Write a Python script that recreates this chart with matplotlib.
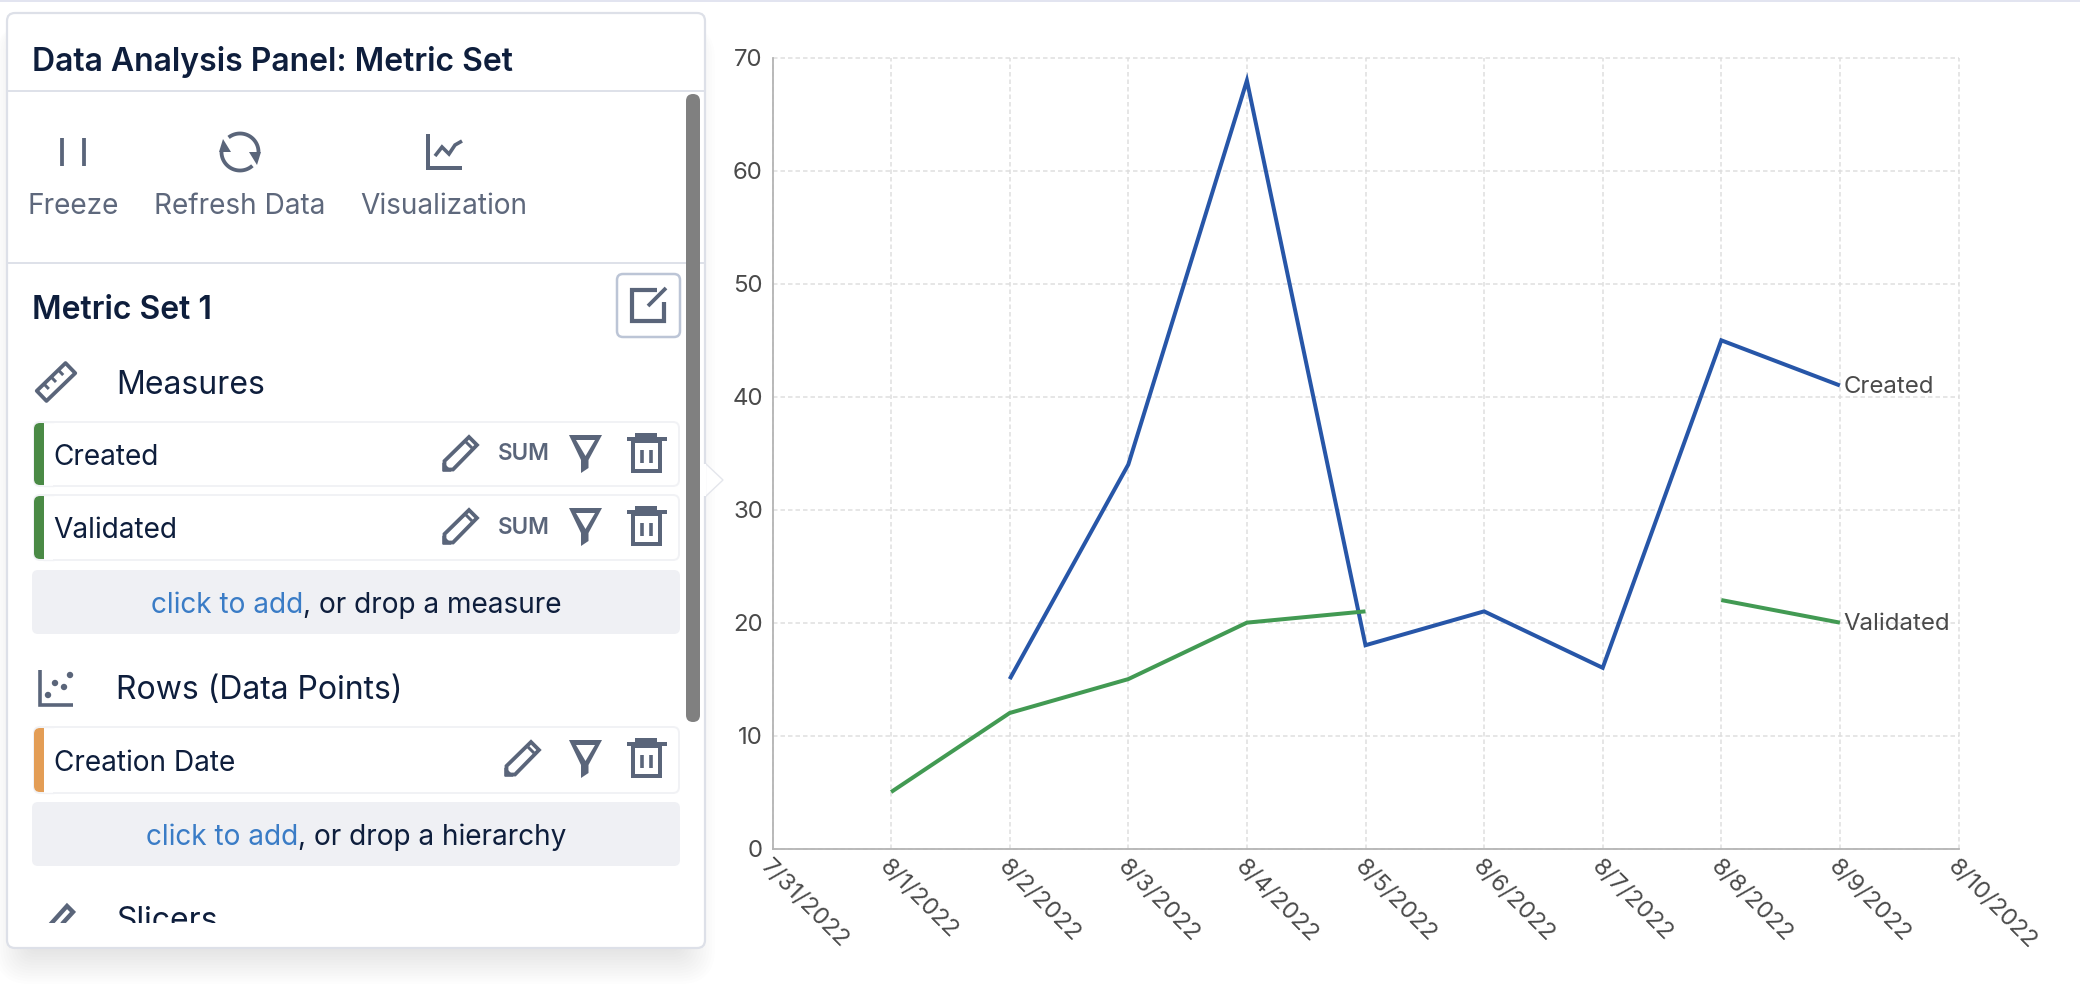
import numpy as np
import matplotlib
matplotlib.use("Agg")
import matplotlib.pyplot as plt
from matplotlib.patches import FancyBboxPatch, Rectangle, Polygon, Circle

plt.rcParams['font.family'] = ['Inter', 'DejaVu Sans']

dates = ['7/31/2022', '8/1/2022', '8/2/2022', '8/3/2022', '8/4/2022', '8/5/2022',
         '8/6/2022', '8/7/2022', '8/8/2022', '8/9/2022', '8/10/2022']
nan = float('nan')
created = [nan, nan, 15, 34, 68, 18, 21, 16, 45, 41, nan]
validated = [nan, 5, 12, 15, 20, 21, nan, nan, 22, 20, nan]
y_ticks = [0, 10, 20, 30, 40, 50, 60, 70]
series_names = ['Created', 'Validated']
series_colors = ['#2756A8', '#429A53']

W, H = 2080, 984
NAVY, GRAY, BORDER = '#0E1E3C', '#5A657A', '#DDE0E8'
LINK, ADDBG = '#3A7CC6', '#EFF0F4'
PX = 0.72  # px to pt at dpi 100

fig = plt.figure(figsize=(W/100, H/100), dpi=100, facecolor='white')
ui = fig.add_axes([0, 0, 1, 1])
ui.set_xlim(0, W); ui.set_ylim(H, 0); ui.axis('off')


def rrect(x0, y0, x1, y1, r=6, fc='white', ec='none', lw=0, alpha=None, z=2):
    p = FancyBboxPatch((x0 + r, y0 + r), x1 - x0 - 2*r, y1 - y0 - 2*r,
                       boxstyle=f'round,pad={r},rounding_size={r}',
                       fc=fc, ec=ec, lw=lw, alpha=alpha, zorder=z)
    ui.add_patch(p)
    return p


def line(xs, ys, color=GRAY, lw=3.2, z=5, cap='butt', join='miter'):
    return ui.plot(xs, ys, color=color, lw=lw*PX, zorder=z,
                   solid_capstyle=cap, solid_joinstyle=join)[0]


def txt(x, y, s, size, color=NAVY, weight='normal', ha='left', z=6):
    return ui.text(x, y, s, fontsize=size*PX, color=color, fontweight=weight,
                   ha=ha, va='center_baseline', zorder=z)


def screen_arc(cx, cy, r, a0, a1, lw=3.8):
    a = np.deg2rad(np.linspace(a0, a1, 60))
    line(cx + r*np.cos(a), cy - r*np.sin(a), lw=lw)


# top strip
ui.add_patch(Rectangle((0, 0), W, 2, fc='#E2E4F0', ec='none', zorder=1))

# shadow
for i in range(14):
    g = 3*i
    rrect(30 - g*0.9, 24, 678 + g*0.95, 949 + g*0.9, r=8 + g*0.7, fc='#39425A', alpha=0.0072, z=1)

# panel
rrect(7, 13, 705, 948, r=8, fc='white', ec=BORDER, lw=1.6, z=2)
# pointer arrow
ui.add_patch(Polygon([[705, 463], [723, 480], [705, 497]], closed=False, fc='white', ec='#E4E6EC', lw=1, zorder=1.5))
ui.add_patch(Rectangle((703, 464), 3, 32, fc='white', ec='none', zorder=3))

# dividers
ui.plot([7, 705], [91, 91], color=BORDER, lw=1.9*PX, zorder=3)
ui.plot([7, 705], [263, 263], color=BORDER, lw=1.9*PX, zorder=3)

# scrollbar
rrect(686, 94, 700, 722, r=7, fc='#808080', z=4)

txt(32, 59, 'Data Analysis Panel: Metric Set', 32, weight='semibold')

# toolbar
line([62, 62], [138, 166], lw=3.8)
line([84, 84], [138, 166], lw=3.8)
screen_arc(240, 152, 18.5, 0, 128)
screen_arc(240, 152, 18.5, 180, 312)
ui.add_patch(Polygon([[219, 152], [231, 152], [223, 139]], fc=GRAY, ec='none', zorder=5))
ui.add_patch(Polygon([[249, 152], [261, 152], [257, 165]], fc=GRAY, ec='none', zorder=5))
line([427.5, 427.5, 462], [134, 168, 168], lw=4)
line([435, 442, 449, 455, 462], [156, 147, 154, 145, 141], lw=3.6)
for cx, s in [(73, 'Freeze'), (239.5, 'Refresh Data'), (444, 'Visualization')]:
    txt(cx, 204, s, 28, color='#5E687C', ha='center')

txt(32, 307, 'Metric Set 1', 32, weight='semibold')
rrect(617, 274, 680, 337, r=6, fc='white', ec='#BCC5D6', lw=1.8, z=3)
line([657, 632, 632, 664, 664], [290, 290, 321, 321, 302], lw=4.2)
line([648, 666], [306, 288], lw=3.8)


def ruler(cx, cy):
    a = np.deg2rad(-44)
    u = np.array([np.cos(a), np.sin(a)]); v = np.array([-u[1], u[0]])
    c = np.array([cx, cy])
    L, T = 20, 7
    pts = [c + s*L*u + t*T*v for s, t in [(-1, -1), (1, -1), (1, 1), (-1, 1)]]
    ui.add_patch(Polygon(pts, closed=True, fc='none', ec=GRAY, lw=3.8*PX, zorder=5, joinstyle='round'))
    for s in (-0.5, 0, 0.5):
        a0 = c + s*L*u - T*v
        a1 = a0 + 7*v
        line([a0[0], a1[0]], [a0[1], a1[1]], lw=3)


ruler(56, 382)
txt(116, 382, 'Measures', 32)


def pencil(x0, y0):
    # x0,y0 = lower-left tip, icon is 35 x 35
    pts = [(x0+1.5, y0-1.5), (x0+1.5, y0-10), (x0+26, y0-34), (x0+34, y0-26), (x0+10, y0-1.5)]
    ui.add_patch(Polygon(pts, closed=True, fc='none', ec=GRAY, lw=3.8*PX, zorder=5))
    ui.add_patch(Polygon([(x0, y0), (x0, y0-8), (x0+8, y0)], closed=True, fc=GRAY, ec=GRAY, lw=1, zorder=5))
    line([x0+23, x0+29], [y0-29, y0-23], lw=3)


def funnel(x0, y0):
    outer = [(x0+1, y0), (x0+34, y0), (x0+20.5, y0+25), (x0+20.5, y0+33), (x0+13, y0+38), (x0+13, y0+25)]
    inner = [(x0+8, y0+5), (x0+27, y0+5), (x0+17.5, y0+21)]
    ui.add_patch(Polygon(outer, closed=True, fc=GRAY, ec='none', zorder=5))
    ui.add_patch(Polygon(inner, closed=True, fc='white', ec='none', zorder=5.1))


def trash(x0, y0):
    ui.add_patch(Rectangle((x0, y0+4), 40, 4, fc=GRAY, ec='none', zorder=5))
    ui.add_patch(Rectangle((x0+8, y0), 22, 5, fc=GRAY, ec='none', zorder=5))
    ui.add_patch(Rectangle((x0+6, y0+8), 27, 30, fc='none', ec=GRAY, lw=4*PX, zorder=5))
    line([x0+15, x0+15], [y0+17, y0+30], lw=3.6)
    line([x0+24, x0+24], [y0+17, y0+30], lw=3.6)


def row(y0, y1, label, bar, icons_x):
    rrect(34, y0, 679, y1, r=6, fc='white', ec='#F1F2F5', lw=1.4, z=3)
    rrect(34, y0+1, 50, y1-1, r=6, fc=bar, z=4)
    ui.add_patch(Rectangle((44, y0), 9, y1-y0, fc='white', ec='none', zorder=4.5))
    ui.plot([44, 53], [y0, y0], color='#F1F2F5', lw=1, zorder=4.6)
    ui.plot([44, 53], [y1, y1], color='#F1F2F5', lw=1, zorder=4.6)
    txt(53.5, (y0+y1)/2 + 0.5, label, 28)
    pencil(icons_x, y0 + 49)
    funnel(568, y0 + 13)
    trash(627, y0 + 11)


row(422, 486, 'Created', '#4A8A45', 443)
txt(523.5, 452, 'SUM', 22.5, color=GRAY, weight='semibold', ha='center')
row(495, 560, 'Validated', '#4A8A45', 443)
txt(523.5, 526, 'SUM', 22.5, color=GRAY, weight='semibold', ha='center')


def addbox(y0, y1, x, link_s, rest):
    rrect(32, y0, 680, y1, r=6, fc=ADDBG, z=3)
    t = txt(x, (y0+y1)/2 + 0.5, link_s, 28, color=LINK)
    ext = t.get_window_extent(fig.canvas.get_renderer())
    txt(ext.x1, (y0+y1)/2 + 0.5, rest, 28)


addbox(570, 634, 151, 'click to add', ', or drop a measure')

# rows icon
line([39.5, 39.5, 73], [670, 704.5, 704.5], lw=3.6)
for cx, cy in [(48, 695), (55, 683), (64, 687), (70, 675)]:
    ui.add_patch(Circle((cx, cy), 3.2, fc=GRAY, ec='none', zorder=5))
txt(116, 687, 'Rows (Data Points)', 32)

row(727, 793, 'Creation Date', '#E39D55', 505)
addbox(802, 866, 146, 'click to add', ', or drop a hierarchy')

clip = Rectangle((7, 860), 698, 63, transform=ui.transData)
t = txt(116, 918.5, 'Slicers', 32)
t.set_clip_on(True)
t.set_clip_path(clip)
l1 = line([49, 67, 73, 62], [926, 906, 912, 924], lw=4.4)
l1.set_clip_path(clip)

# chart ------------------------------------------------------------------
L, R, T, B = 772.5, 1958.5, 58, 848.5
ax = fig.add_axes([L/W, 1 - B/H, (R-L)/W, (B-T)/H], facecolor='none')
x = np.arange(len(dates))
ax.set_xlim(0, len(dates) - 1)
ax.set_ylim(0, 70)
ax.set_xticks(x)
ax.set_yticks(y_ticks)
ax.grid(True, color='#DEDEDE', lw=1.5*PX, linestyle=(0, (3, 2)))
ax.set_axisbelow(True)
for g in ax.get_xgridlines() + ax.get_ygridlines():
    g.set_clip_on(False)
for s in ('top', 'right'):
    ax.spines[s].set_visible(False)
for s in ('left', 'bottom'):
    ax.spines[s].set_color('#B4B4B4')
    ax.spines[s].set_linewidth(1.8*PX)
ax.tick_params(axis='y', length=0, labelsize=24*PX, labelcolor='#4A4A4A', pad=7)
ax.tick_params(axis='x', length=0, labelsize=24*PX, labelcolor='#4A4A4A', pad=5)
ax.set_xticklabels(dates, rotation=-45, ha='left', va='top', rotation_mode='anchor')
for name, vals, col in zip(series_names, [created, validated], series_colors):
    ax.plot(x, vals, color=col, lw=4*PX, solid_capstyle='butt', solid_joinstyle='miter', zorder=3)
    last = [i for i, v in enumerate(vals) if v == v][-1]
    ax.annotate(name, (x[last], vals[last]), xytext=(2.8, 1), textcoords='offset points',
                fontsize=24*PX, color='#4A4A4A', va='center_baseline', ha='left')

fig.savefig('out.png', dpi=100)
